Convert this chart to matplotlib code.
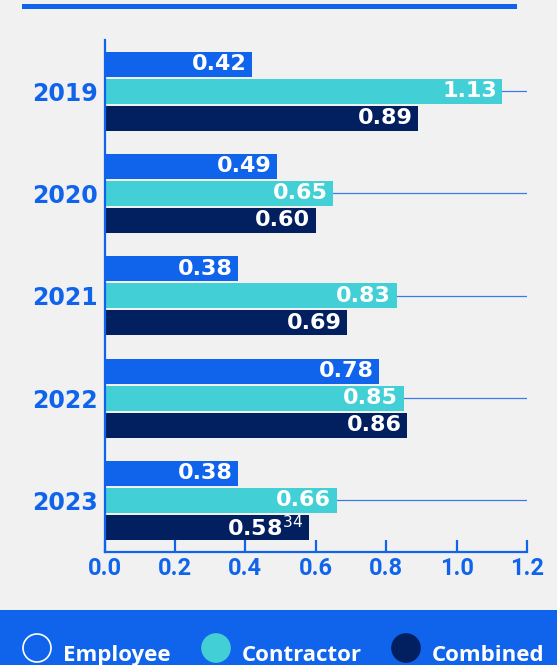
import matplotlib
matplotlib.use("Agg")
import matplotlib.pyplot as plt
import matplotlib.patches as patches
import numpy as np

# Data
years = ["2019", "2020", "2021", "2022", "2023"]
employee = [0.42, 0.49, 0.38, 0.78, 0.38]
contractor = [1.13, 0.65, 0.83, 0.85, 0.66]
combined = [0.89, 0.60, 0.69, 0.86, 0.58]
combined_labels = ["0.89", "0.60", "0.69", "0.86", "0.58$^{34}$"]
series_names = ["Employee", "Contractor", "Combined"]
x_ticks = [0.0, 0.2, 0.4, 0.6, 0.8, 1.0, 1.2]

# Colours
BG = "#f1f1f1"
BLUE = "#1064eb"
TEAL = "#42cfd6"
NAVY = "#02205f"
GRID = "#3b7be9"

W, H = 557, 665
fig = plt.figure(figsize=(W / 100, H / 100), dpi=100, facecolor=BG)
ax = fig.add_axes([104.5 / W, 1 - 551.5 / H, (527 - 104.5) / W, (551.5 - 40) / H])
ax.set_facecolor(BG)

y = np.arange(len(years))
bh = 0.245
off = 0.264

# grid lines at group centres, behind bars
for yy in y:
    ax.axhline(yy, color=GRID, linewidth=0.9, zorder=0)

series = [
    (employee, BLUE, -off, [f"{v:.2f}" for v in employee]),
    (contractor, TEAL, 0, [f"{v:.2f}" for v in contractor]),
    (combined, NAVY, off, combined_labels),
]
for vals, col, dy, labels in series:
    ax.barh(y + dy, vals, height=bh, color=col, zorder=2)
    for yy, v, lab in zip(y, vals, labels):
        ax.annotate(lab, (v, yy + dy), xytext=(-4, 0), textcoords="offset points",
                    ha="right", va="center", color="white", fontsize=16,
                    fontweight="bold", family="DejaVu Sans", zorder=3)

ax.set_xlim(0, 1.2)
ax.set_ylim(4.5, -0.5)
ax.set_xticks(x_ticks)
ax.set_xticklabels([f"{t:.1f}" for t in x_ticks], family="Roboto",
                   fontweight="bold", fontsize=17, color=BLUE)
ax.set_yticks(y)
ax.set_yticklabels(years, family="DejaVu Sans", fontweight="bold",
                   fontsize=17, color=BLUE)
ax.tick_params(axis="x", direction="in", length=9, width=1.6, color=BLUE, pad=4)
ax.tick_params(axis="y", length=0, pad=5)

for s in ["top", "right"]:
    ax.spines[s].set_visible(False)
for s in ["left", "bottom"]:
    ax.spines[s].set_color(BLUE)
    ax.spines[s].set_linewidth(1.6)

# top rule
fig.patches.append(patches.Rectangle(
    (22 / W, 1 - 8.7 / H), (517 - 22) / W, 4.5 / H,
    transform=fig.transFigure, facecolor=BLUE, edgecolor="none"))

# legend band
fig.patches.append(patches.Rectangle(
    (0, 0), 1, (H - 610) / H, transform=fig.transFigure,
    facecolor=BLUE, edgecolor="none"))

legend_x = [37, 216, 406]
legend_fc = ["none", TEAL, NAVY]
legend_ec = ["white", TEAL, NAVY]
for cx, fc, ec, name in zip(legend_x, legend_fc, legend_ec, series_names):
    fig.patches.append(patches.Ellipse(
        (cx / W, 1 - 648 / H), 28 / W, 28 / H, transform=fig.transFigure,
        facecolor=fc, edgecolor=ec, linewidth=1.2))
    fig.text((cx + 26) / W, 1 - 661 / H, name, color="white", fontsize=16,
             fontweight="bold", family="Open Sans", va="baseline", ha="left")

fig.savefig("out.png", dpi=100, facecolor=BG)
